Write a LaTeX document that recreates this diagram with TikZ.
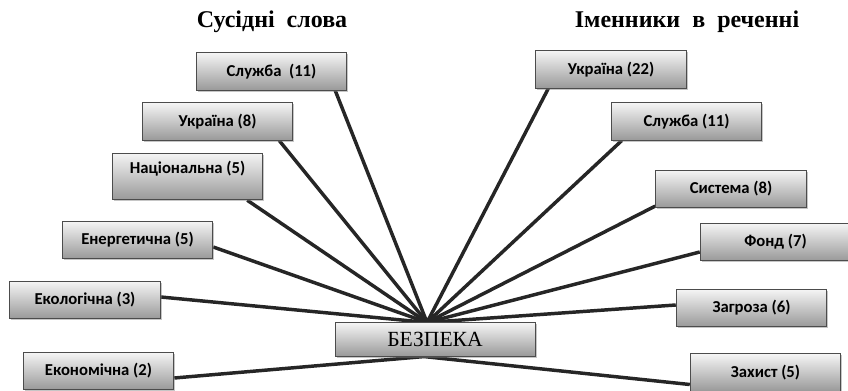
\documentclass[tikz,border=0pt]{standalone}
\usepackage{fontspec}
\setmainfont{Liberation Serif}
\newfontfamily\boxfont{Carlito}
\usetikzlibrary{calc,shadows,backgrounds}

\begin{document}
\begin{tikzpicture}[
    x=0.75pt, y=-0.75pt,
    wordbox/.style={draw=black!70, line width=0.6pt, top color=black!4, bottom color=black!40,
        drop shadow={shadow xshift=1.2pt, shadow yshift=-1.2pt, opacity=0.45},
        minimum width=113pt, minimum height=28pt, inner sep=2pt,
        font={\boxfont\bfseries\fontsize{12.5}{14}\selectfont}},
    hubbox/.style={wordbox, minimum width=150pt, minimum height=25pt,
        font={\fontsize{16.2}{18}\selectfont}},
    titlelabel/.style={font={\bfseries\fontsize{18}{20}\selectfont}},
    link/.style={line width=2.6pt, black!85}
]
    \useasboundingbox (0,0) rectangle (848,391);

    % Column titles
    \node[titlelabel] (tleft) at (272,22) {Сусідні\ \ слова};
    \node[titlelabel] (tright) at (687,22) {Іменники\ \ в\ \ реченні};

    % Central word
    \node[hubbox] (bez) at (435,339.5) {БЕЗПЕКА};
    \coordinate (hub) at ($(bez.north)+(-8,0)$);
    \coordinate (hubdown) at ($(bez.south)+(-11,0)$);

    % Neighbouring words (left)
    \node[wordbox] (l1) at (271.5,71.5) {Служба\ \ (11)};
    \node[wordbox] (l2) at (217.5,121.5) {Україна (8)};
    \node[wordbox, minimum height=35pt, text depth=14pt] (l3) at (187.5,176.5) {Національна (5)};
    \node[wordbox] (l4) at (137.5,240) {Енергетична (5)};
    \node[wordbox] (l5) at (85,300) {Екологічна (3)};
    \node[wordbox] (l6) at (98.5,371) {Економічна (2)};

    % Nouns in the sentence (right)
    \node[wordbox] (r1) at (611,69.5) {Україна (22)};
    \node[wordbox] (r2) at (686.5,121.5) {Служба (11)};
    \node[wordbox] (r3) at (731,189) {Система (8)};
    \node[wordbox] (r4) at (775.5,242) {Фонд (7)};
    \node[wordbox] (r5) at (751.5,308) {Загроза (6)};
    \node[wordbox] (r6) at (765.5,372.5) {Захист (5)};

    % Links to the central word
    \begin{scope}[on background layer]
        \draw[link] ($(l1.south east)+(-12,0)$) -- (hub);
        \draw[link] ($(l2.south east)+(-14,0)$) -- (hub);
        \draw[link] ($(l3.south east)+(-16,0)$) -- (hub);
        \draw[link] ($(l4.east)+(0,7)$) -- (hub);
        \draw[link] ($(l5.east)+(0,-3)$) -- (hub);
        \draw[link] ($(l6.east)+(0,7)$) -- (hubdown);
        \draw[link] ($(r1.south west)+(13,0)$) -- (hub);
        \draw[link] ($(r2.south west)+(11,0)$) -- (hub);
        \draw[link] ($(r3.south west)+(0,-2)$) -- (hub);
        \draw[link] ($(r4.west)+(0,10)$) -- (hub);
        \draw[link] ($(r5.west)+(0,-3)$) -- (hub);
        \draw[link] ($(r6.west)+(0,12)$) -- (hubdown);
    \end{scope}
\end{tikzpicture}
\end{document}
